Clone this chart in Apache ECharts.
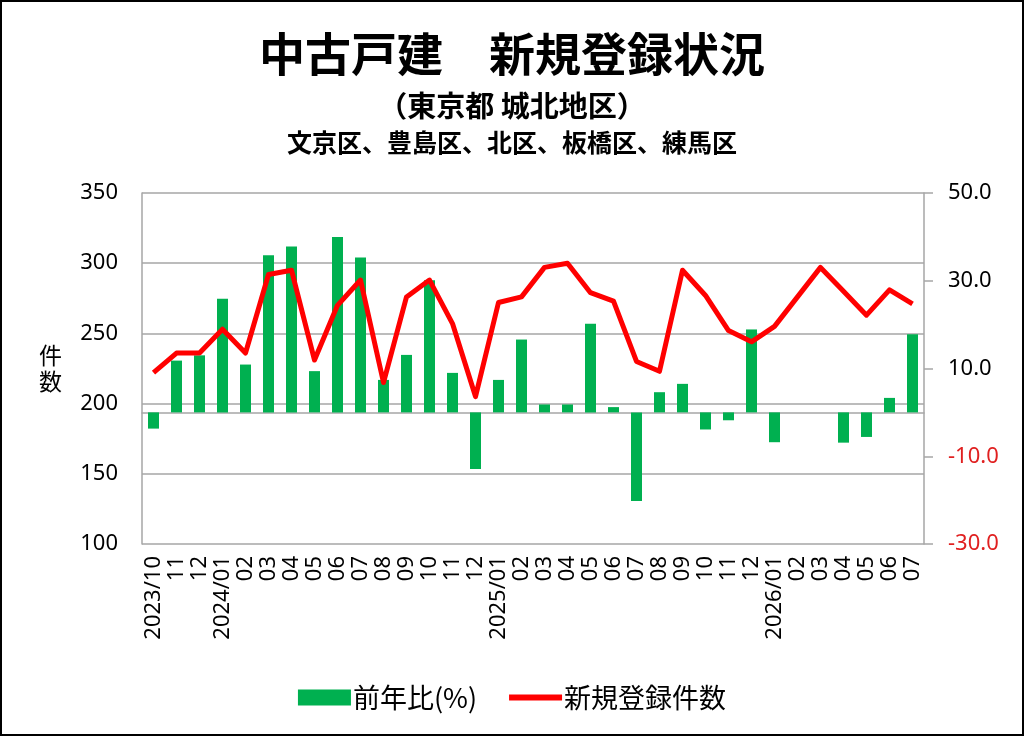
<!DOCTYPE html>
<html lang="ja">
<head>
    <meta charset="UTF-8">
    <title>中古戸建 新規登録状況</title>
    <script src="https://cdn.jsdelivr.net/npm/echarts@6/dist/echarts.min.js"></script>
    <style>
        html, body { margin: 0; padding: 0; background: #fff; }
        #wrap { position: relative; width: 1024px; height: 736px; }
        #main { width: 1024px; height: 736px; }
        #frame { position: absolute; left: 0; top: 0; width: 1024px; height: 736px;
                 box-sizing: border-box; border: 2px solid #000; pointer-events: none; }
    </style>
</head>
<body>
<div id="wrap">
    <div id="main"></div>
    <div id="frame"></div>
</div>
<script type="text/javascript">
    // 月（2023/10 〜 2026/07）
    var months = [
        '2023/10', '2023/11', '2023/12',
        '2024/01', '2024/02', '2024/03', '2024/04', '2024/05', '2024/06',
        '2024/07', '2024/08', '2024/09', '2024/10', '2024/11', '2024/12',
        '2025/01', '2025/02', '2025/03', '2025/04', '2025/05', '2025/06',
        '2025/07', '2025/08', '2025/09', '2025/10', '2025/11', '2025/12',
        '2026/01', '2026/02', '2026/03', '2026/04', '2026/05', '2026/06', '2026/07'
    ];

    // 前年比（%）
    var yoyRate = [
        -3.7, 11.8, 13.0,
        25.9, 10.9, 35.8, 37.8, 9.4, 40.0,
        35.3, 7.4, 13.1, 30.1, 9.0, -12.9,
        7.4, 16.6, 1.8, 1.8, 20.2, 1.2,
        -20.2, 4.6, 6.5, -3.9, -1.8, 18.9,
        -6.8, 0, 0, -6.9, -5.6, 3.3, 17.8
    ];

    // 新規登録件数
    var newListings = [
        222, 236, 236,
        253, 236, 292, 295, 231, 270,
        288, 215, 276, 288, 257, 205,
        272, 276, 297, 300, 279, 273,
        230, 223, 295, 277, 252, 244,
        255, 276, 297, 280, 263, 281, 271
    ];

    var leftTicks = { min: 100, max: 350, interval: 50 };
    var rightTicks = { min: -30, max: 50, interval: 20 };

    var jpFont = '"Noto Sans CJK JP", "Noto Sans", sans-serif';
    var numFont = '"Noto Sans", "Noto Sans CJK JP", sans-serif';
    var gridGray = '#a6a6a6';

    // 凡例の線アイコン（上下に余白を持たせた細い帯）
    var lineIcon = 'path://M0,0 M0,5 L53,5 L53,11 L0,11 Z M53,16';

    var myChart = echarts.init(document.getElementById('main'), null, { renderer: 'canvas' });

    var option = {
        backgroundColor: '#fff',
        animation: false,
        title: [
            {
                text: '中古戸建　新規登録状況',
                left: 'center', top: 26,
                textStyle: { fontFamily: jpFont, fontSize: 46, fontWeight: 'bold', color: '#000' }
            },
            {
                text: '（東京都 城北地区）',
                left: 'center', top: 86,
                textStyle: { fontFamily: jpFont, fontSize: 29, fontWeight: 'bold', color: '#000' }
            },
            {
                text: '文京区、豊島区、北区、板橋区、練馬区',
                left: 'center', top: 125,
                textStyle: { fontFamily: jpFont, fontSize: 25, fontWeight: 'bold', color: '#000' }
            }
        ],
        legend: {
            left: 'center',
            top: 679,
            itemWidth: 53,
            itemHeight: 16,
            itemGap: 32,
            textStyle: { fontFamily: jpFont, fontSize: 27, color: '#000', padding: [0, 0, 0, -3] },
            data: [
                { name: '前年比(%)', icon: 'rect' },
                { name: '新規登録件数', icon: lineIcon }
            ]
        },
        grid: { left: 142, right: 100, top: 193, bottom: 192, containLabel: false },
        xAxis: {
            type: 'category',
            data: months,
            boundaryGap: true,
            axisLine: { show: true, lineStyle: { color: gridGray, width: 1.5 } },
            axisTick: { show: false },
            axisLabel: {
                interval: 0,
                rotate: 90,
                margin: 12,
                fontFamily: numFont,
                fontSize: 22,
                color: '#000',
                formatter: function (value, index) {
                    var parts = value.split('/');
                    if (index === 0 || parts[1] === '01') return value;
                    return parts[1];
                }
            }
        },
        yAxis: [
            {
                type: 'value',
                min: leftTicks.min, max: leftTicks.max, interval: leftTicks.interval,
                name: '件\n数',
                nameLocation: 'middle',
                nameRotate: 0,
                nameGap: 80,
                nameTextStyle: { fontFamily: jpFont, fontSize: 23, color: '#000', lineHeight: 26 },
                axisLine: { show: true, lineStyle: { color: gridGray, width: 1.5 } },
                axisTick: { show: false },
                axisLabel: { margin: 24, fontFamily: numFont, fontSize: 22, color: '#000' },
                splitLine: { show: true, lineStyle: { color: gridGray, width: 1.5 } }
            },
            {
                type: 'value',
                position: 'right',
                min: rightTicks.min, max: rightTicks.max, interval: rightTicks.interval,
                axisLine: { show: true, lineStyle: { color: gridGray, width: 1.5 } },
                axisTick: { show: true, inside: false, length: 9, lineStyle: { color: gridGray, width: 1.5 } },
                axisLabel: {
                    margin: 24,
                    fontFamily: numFont,
                    fontSize: 22,
                    formatter: function (v) { return v.toFixed(1); },
                    color: function (v) { return Number(v) < 0 ? '#e02020' : '#000'; }
                },
                splitLine: { show: false }
            }
        ],
        series: [
            {
                name: '前年比(%)',
                type: 'bar',
                yAxisIndex: 1,
                barWidth: 11,
                itemStyle: { color: '#00b050' },
                data: yoyRate,
                z: 2
            },
            {
                name: '新規登録件数',
                type: 'line',
                yAxisIndex: 0,
                symbol: 'none',
                showSymbol: false,
                lineStyle: { color: '#ff0000', width: 5, join: 'round' },
                itemStyle: { color: '#ff0000' },
                data: newListings,
                z: 3
            }
        ]
    };

    myChart.setOption(option);
</script>
</body>
</html>
